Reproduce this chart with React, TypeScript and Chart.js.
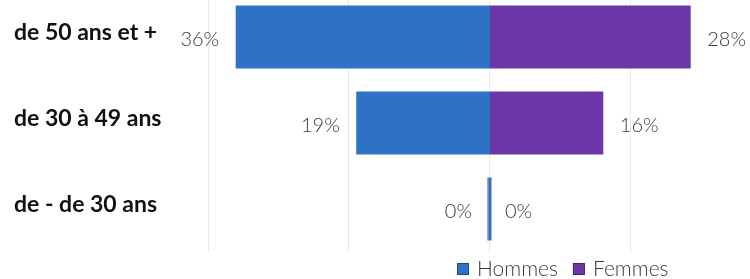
import React, { useEffect, useRef } from "react";
import { Chart, registerables } from "chart.js";

Chart.register(...registerables);

const categories = ["de 50 ans et +", "de 30 à 49 ans", "de - de 30 ans"];
const hommesValues = [36, 18.9, 0];
const femmesValues = [28.4, 16, 0];
const hommesLabels = ["36%", "19%", "0%"];
const femmesLabels = ["28%", "16%", "0%"];
const gridTicks = [-40, -20, 0, 20];
const seriesNames = ["Hommes", "Femmes"];
const seriesColors = ["#2e72c6", "#6a36a8"];

const LABEL_FONT = "300 20px Lato";
const AXIS_FONT_FAMILY = "Lato";

const dataLabelPlugin = {
  id: "dataLabels",
  afterDatasetsDraw(chart: any) {
    const ctx = chart.ctx;
    ctx.save();
    ctx.font = LABEL_FONT;
    ctx.fillStyle = "#3a3a3a";
    ctx.textBaseline = "middle";
    const texts = [hommesLabels, femmesLabels];
    chart.data.datasets.forEach((ds: any, di: number) => {
      const meta = chart.getDatasetMeta(di);
      meta.data.forEach((bar: any, i: number) => {
        const t = texts[di][i];
        if (di === 0) {
          ctx.textAlign = "right";
          ctx.fillText(t, Math.min(bar.x, bar.base) - 17, bar.y + 3);
        } else {
          ctx.textAlign = "left";
          ctx.fillText(t, Math.max(bar.x, bar.base) + 17, bar.y + 3);
        }
      });
    });
    ctx.restore();
  },
};

const legendPlugin = {
  id: "customLegend",
  afterDraw(chart: any) {
    const ctx = chart.ctx;
    ctx.save();
    ctx.font = "300 21px Lato";
    ctx.textBaseline = "middle";
    ctx.textAlign = "left";
    const y = chart.chartArea.bottom + 17;
    let x = 457;
    seriesNames.forEach((name, i) => {
      const box = 12;
      ctx.fillStyle = seriesColors[i];
      ctx.fillRect(x, y - box / 2, box, box);
      ctx.strokeStyle = "rgba(0,0,0,0.35)";
      ctx.lineWidth = 1;
      ctx.strokeRect(x + 0.5, y - box / 2 + 0.5, box - 1, box - 1);
      x += box + 8;
      ctx.fillStyle = "#3a3a3a";
      ctx.fillText(name, x, y);
      x += ctx.measureText(name).width + 15;
    });
    ctx.restore();
  },
};

export default function App() {
  const ref = useRef<HTMLCanvasElement | null>(null);
  useEffect(() => {
    if (!ref.current) return;
    const chart = new Chart(ref.current, {
      type: "bar",
      data: {
        labels: categories,
        datasets: [
          {
            label: seriesNames[0],
            data: hommesValues.map((v) => -v),
            backgroundColor: seriesColors[0],
            minBarLength: 2,
            inflateAmount: 0.5,
            categoryPercentage: 0.72,
            barPercentage: 1,
          },
          {
            label: seriesNames[1],
            data: femmesValues,
            backgroundColor: seriesColors[1],
            inflateAmount: 0.5,
            categoryPercentage: 0.72,
            barPercentage: 1,
          },
        ],
      },
      options: {
        indexAxis: "y",
        responsive: false,
        animation: false,
        devicePixelRatio: 1,
        layout: { padding: { left: 14, top: 0, right: 0, bottom: 33 } },
        plugins: {
          legend: { display: false },
          tooltip: { enabled: false },
        },
        scales: {
          x: {
            stacked: true,
            min: -40,
            max: 36.88,
            grid: { color: "#e8e8e8", drawTicks: false, lineWidth: 1 },
            border: { display: false },
            ticks: { display: false },
            afterBuildTicks: (scale: any) => {
              scale.ticks = gridTicks.map((v) => ({ value: v }));
            },
            afterFit: (scale: any) => {
              scale.height = 0;
              scale.paddingLeft = 0;
              scale.paddingRight = 0;
            },
          },
          y: {
            stacked: true,
            grid: { display: false },
            border: { display: false },
            ticks: {
              crossAlign: "far",
              padding: 0,
              labelOffset: -4,
              color: "#111111",
              font: { family: AXIS_FONT_FAMILY, weight: "bold", size: 23 },
            },
            afterFit: (scale: any) => {
              scale.width = 194;
              scale.paddingTop = 0;
              scale.paddingBottom = 0;
            },
          },
        },
      },
      plugins: [dataLabelPlugin, legendPlugin],
    } as any);
    return () => chart.destroy();
  }, []);
  return (
    <div
      style={{
        position: "absolute",
        left: 0,
        top: -6,
        width: 750,
        height: 291,
        overflow: "hidden",
      }}
    >
      <canvas ref={ref} width={750} height={291} />
    </div>
  );
}
